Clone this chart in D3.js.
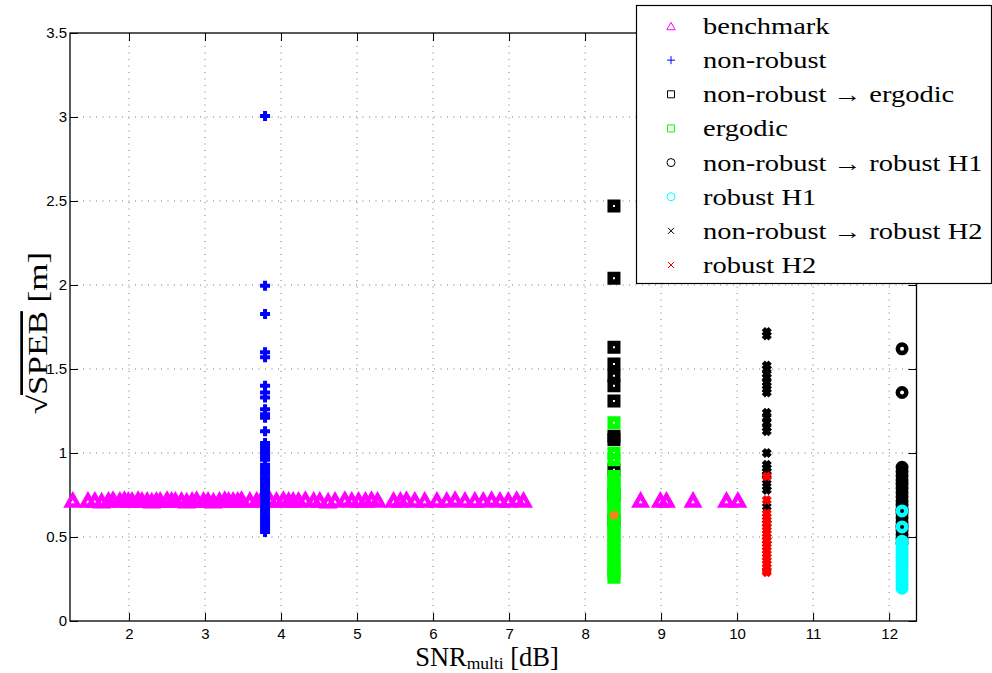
<!DOCTYPE html>
<html><head><meta charset="utf-8">
<script src="https://d3js.org/d3.v7.min.js"></script>
<style>body{margin:0;background:#fff}</style>
</head><body>
<svg width="992" height="673"></svg>
<script>
// axis ticks
const xTicks = [2, 3, 4, 5, 6, 7, 8, 9, 10, 11, 12];
const yTicks = [0, 0.5, 1, 1.5, 2, 2.5, 3, 3.5];

// benchmark (triangles)
const benchmarkX = [1.26, 1.46, 1.55, 1.64, 1.73, 1.79, 1.88, 1.94, 1.99, 2.04, 2.12, 2.17, 2.24, 2.30, 2.36, 2.41, 2.50, 2.56, 2.61, 2.69, 2.76, 2.83, 2.89, 2.98, 3.04, 3.11, 3.19, 3.26, 3.31, 3.37, 3.43, 3.48, 3.59, 3.68, 3.74, 3.86, 3.94, 4.03, 4.10, 4.16, 4.23, 4.32, 4.43, 4.51, 4.62, 4.71, 4.84, 4.93, 5.02, 5.11, 5.19, 5.27, 5.48, 5.57, 5.65, 5.76, 5.89, 6.05, 6.18, 6.29, 6.42, 6.55, 6.66, 6.77, 6.88, 6.99, 7.10, 7.19, 8.73, 8.99, 9.07, 9.42, 9.86, 10.01];
const benchmarkY = [0.71, 0.71, 0.71, 0.705, 0.71, 0.715, 0.71, 0.715, 0.71, 0.71, 0.715, 0.71, 0.71, 0.705, 0.71, 0.71, 0.715, 0.71, 0.71, 0.71, 0.705, 0.71, 0.715, 0.71, 0.71, 0.705, 0.71, 0.715, 0.71, 0.71, 0.71, 0.715, 0.71, 0.71, 0.715, 0.71, 0.71, 0.715, 0.71, 0.71, 0.71, 0.715, 0.71, 0.71, 0.705, 0.71, 0.715, 0.71, 0.71, 0.71, 0.715, 0.71, 0.71, 0.71, 0.715, 0.71, 0.71, 0.71, 0.71, 0.715, 0.71, 0.71, 0.71, 0.715, 0.71, 0.71, 0.715, 0.71, 0.71, 0.71, 0.71, 0.71, 0.71, 0.71];

// non-robust (plus) at one SNR
const nonRobustSNR = 3.79;
const nonRobustY = [3.006, 1.996, 1.827, 1.60, 1.57, 1.40, 1.36, 1.33, 1.26, 1.23, 1.21, 1.13, 1.06, 1.04, 1.02, 1.00, 0.98, 0.96, 0.93, 0.91, 0.89, 0.87, 0.85, 0.83, 0.81, 0.79, 0.77, 0.75, 0.73, 0.71, 0.69, 0.67, 0.65, 0.63, 0.61, 0.59, 0.57, 0.55, 0.53];

// non-robust -> ergodic (black squares) and ergodic (green squares)
const ergodicSNR = 8.38;
const nrErgodicY = [2.47, 2.04, 1.63, 1.53, 1.46, 1.40, 1.31, 1.10, 1.08, 0.90, 0.75, 0.60];
const ergodicY = [1.18, 1.00, 0.96, 0.86, 0.84, 0.81, 0.78, 0.75, 0.72, 0.69, 0.66, 0.63, 0.60, 0.57, 0.54, 0.51, 0.48, 0.45, 0.42, 0.39, 0.36, 0.33, 0.30, 0.28, 0.26];
const extraPoint = [8.38, 0.63];

// non-robust -> robust H2 (black x) and robust H2 (red x)
const h2SNR = 10.39;
const nrH2Y = [1.72, 1.70, 1.52, 1.50, 1.47, 1.45, 1.42, 1.40, 1.38, 1.36, 1.24, 1.21, 1.18, 1.15, 1.13, 1.00, 0.93, 0.91, 0.89, 0.87, 0.84, 0.80, 0.78, 0.68, 0.58, 0.48];
const robustH2Y = [0.86, 0.72, 0.64, 0.62, 0.60, 0.58, 0.56, 0.54, 0.52, 0.50, 0.48, 0.46, 0.44, 0.42, 0.40, 0.38, 0.36, 0.34, 0.32, 0.30, 0.29];

// non-robust -> robust H1 (black circles) and robust H1 (cyan circles)
const h1SNR = 12.17;
const nrH1Y = [1.62, 1.36, 0.915, 0.89, 0.865, 0.84, 0.815, 0.79, 0.765, 0.74, 0.715, 0.69, 0.665, 0.655, 0.64, 0.615, 0.59, 0.565, 0.56, 0.54, 0.515, 0.49, 0.465];
const robustH1Y = [0.655, 0.56, 0.475, 0.455, 0.435, 0.415, 0.395, 0.375, 0.355, 0.335, 0.315, 0.295, 0.275, 0.255, 0.235, 0.215, 0.195];

const legendLabels = ['benchmark', 'non-robust', 'non-robust \u2192 ergodic', 'ergodic',
  'non-robust \u2192 robust H1', 'robust H1', 'non-robust \u2192 robust H2', 'robust H2'];

const svg = d3.select('svg');
const x = d3.scaleLinear().domain([1.224, 12.36]).range([70, 916.5]);
const y = d3.scaleLinear().domain([0, 3.5]).range([621, 33]);

function shape(kind, s) {
  if (kind == 'tri') return `M0,${-s * 1.1}L${s},${s * 0.65}L${-s},${s * 0.65}Z`;
  if (kind == 'plus') return `M${-s},0H${s}M0,${-s}V${s}`;
  if (kind == 'sq') return `M${-s},${-s}H${s}V${s}H${-s}Z`;
  if (kind == 'circ') return `M${s},0A${s},${s} 0 1 1 ${-s},0A${s},${s} 0 1 1 ${s},0Z`;
  if (kind == 'x') return `M${-s},${-s}L${s},${s}M${-s},${s}L${s},${-s}`;
}
// [size, stroke width] of the plotted markers
const big = {
  tri: [5.7, 4.4], plus: [5, 4], sq: [3.75, 5.5], circ: [4.25, 4.5], x: [3.4, 4.6]
};

// grid
const grid = svg.append('g').attr('stroke', '#777').attr('stroke-dasharray', '1,5.5').attr('stroke-width', 1);
grid.selectAll('.gx').data(xTicks).enter().append('line')
  .attr('x1', d => x(d)).attr('x2', d => x(d)).attr('y1', 33).attr('y2', 621);
grid.selectAll('.gy').data(yTicks.slice(1, -1)).enter().append('line')
  .attr('y1', d => y(d)).attr('y2', d => y(d)).attr('x1', 70).attr('x2', 916.5);

// axes
const tf = d3.format('~g');
svg.append('g').attr('transform', 'translate(0,621)')
  .call(d3.axisBottom(x).tickValues(xTicks).tickSize(-8).tickPadding(7).tickFormat(tf))
  .call(g => g.select('.domain').remove());
svg.append('g').attr('transform', 'translate(0,33)')
  .call(d3.axisTop(x).tickValues(xTicks).tickSize(-8).tickFormat(''))
  .call(g => g.select('.domain').remove());
svg.append('g').attr('transform', 'translate(70,0)')
  .call(d3.axisLeft(y).tickValues(yTicks).tickSize(-8).tickPadding(3).tickFormat(tf))
  .call(g => g.select('.domain').remove());
svg.append('g').attr('transform', 'translate(916.5,0)')
  .call(d3.axisRight(y).tickValues(yTicks).tickSize(-8).tickFormat(''))
  .call(g => g.select('.domain').remove());
svg.selectAll('.tick text').attr('font-family', 'Liberation Sans, Arial, sans-serif').attr('font-size', 15).attr('fill', '#000');
svg.selectAll('.tick line').attr('stroke', '#000');
svg.append('rect').attr('x', 70).attr('y', 33).attr('width', 846.5).attr('height', 588)
  .attr('fill', 'none').attr('stroke', '#000').attr('stroke-width', 1.3);

// marks
function column(snr, ys, kind, color) {
  const [s, w] = big[kind];
  svg.append('g').selectAll('path').data(ys).enter().append('path')
    .attr('d', shape(kind, s))
    .attr('transform', d => `translate(${x(snr)},${y(d)})`)
    .attr('fill', 'none').attr('stroke', color).attr('stroke-width', w);
}
const [ts, tw] = big.tri;
svg.append('g').selectAll('path').data(benchmarkX).enter().append('path')
  .attr('d', shape('tri', ts))
  .attr('transform', (d, i) => `translate(${x(d)},${y(benchmarkY[i])})`)
  .attr('fill', 'none').attr('stroke', '#ff00ff').attr('stroke-width', tw);
column(nonRobustSNR, nonRobustY, 'plus', '#0000ff');
column(ergodicSNR, nrErgodicY, 'sq', '#000');
column(ergodicSNR, ergodicY, 'sq', '#00ff00');
svg.append('circle').attr('cx', x(extraPoint[0])).attr('cy', y(extraPoint[1])).attr('r', 4.5).attr('fill', '#f5821f');
column(h1SNR, nrH1Y, 'circ', '#000');
column(h1SNR, robustH1Y, 'circ', '#00ffff');
column(h2SNR, nrH2Y, 'x', '#000');
column(h2SNR, robustH2Y, 'x', '#ff0000');

// axis titles
const serif = 'Liberation Serif, Times New Roman, serif';
const xt = svg.append('text').attr('x', 487).attr('y', 665.5).attr('text-anchor', 'middle')
  .attr('font-family', serif).attr('font-size', 26.5);
xt.append('tspan').text('SNR');
xt.append('tspan').attr('font-size', 17.5).attr('dy', 3).text('multi');
xt.append('tspan').attr('dy', -3).text(' [dB]');

const yt = svg.append('text').attr('transform', 'translate(47,333) rotate(-90) scale(1.3,1)').attr('text-anchor', 'middle')
  .attr('font-family', serif).attr('font-size', 27);
yt.append('tspan').text('\u221A');
yt.append('tspan').style('text-decoration', 'overline').text('SPEB');
yt.append('tspan').text(' [m]');

// legend
const leg = svg.append('g');
leg.append('rect').attr('x', 636.5).attr('y', 5.5).attr('width', 355).attr('height', 278)
  .attr('fill', '#fff').attr('stroke', '#000').attr('stroke-width', 1.2);
const legKinds = [['tri', '#ff00ff', 4.2], ['plus', '#0000ff', 4], ['sq', '#000', 3.5], ['sq', '#00ff00', 3.5],
  ['circ', '#000', 4], ['circ', '#00ffff', 4], ['x', '#000', 3], ['x', '#ff0000', 3]];
const rowY = d3.scaleLinear().domain([0, 7]).range([26, 265]);
legendLabels.forEach((lab, i) => {
  const [k, c, s] = legKinds[i];
  leg.append('path').attr('d', shape(k, s)).attr('transform', `translate(671,${rowY(i) + (k == 'tri' ? 1 : 0)})`)
    .attr('fill', 'none').attr('stroke', c).attr('stroke-width', 1);
  leg.append('text').attr('transform', `translate(703,${rowY(i) + 8}) scale(1.24,1)`)
    .attr('font-family', serif).attr('font-size', 23).attr('fill', '#000').text(lab);
});
</script>
</body></html>
